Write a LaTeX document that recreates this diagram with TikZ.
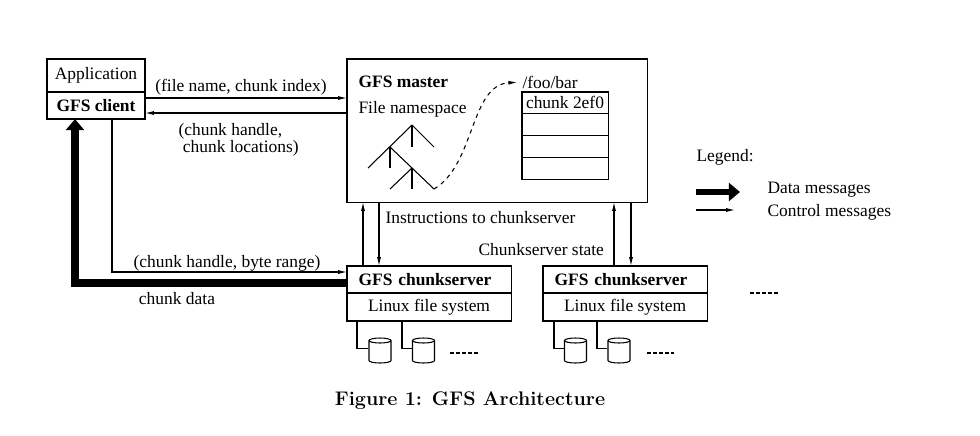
\documentclass[tikz,border=0pt]{standalone}
\usepackage{fontspec}
\usepackage{tikz}
\usetikzlibrary{positioning}
\usetikzlibrary{arrows.meta}
\usetikzlibrary{calc}
\newfontfamily\diagfont{Liberation Serif}
\newcommand{\storagedisk}[3]{ % Takes node name, x coord, y coord of the centre as arguments
    \node [disk] (#1) at (#2, #3) {};
    \draw [fill=white] (#2-11, #3-10) -- (#2-11, #3+10) arc [start angle=180, end angle=360, x radius=0.275cm, y radius=0.0625cm] -- (#2+11, #3-10);
    \draw (#2, #3-10) ellipse [x radius=0.275cm, y radius=0.0625cm];
}
\tikzset{
    box/.style={draw, rectangle, inner sep=0pt, outer sep=0pt, anchor=north west},
    csbox/.style={box, font=\diagfont\fontsize{12.4pt}{10.7pt}\selectfont\bfseries, inner xsep=0.29cm, text width=3.52cm, align=left, minimum height=0.675cm},
    fsbox/.style={box, minimum width=4.1cm, minimum height=0.7cm},
    row/.style={box, minimum width=2.15cm, minimum height=0.544cm},
    lbl/.style={inner sep=0pt},
    disk/.style={rectangle, inner sep=0pt, minimum width=0.55cm, minimum height=0.62cm},
    ctrl/.style={-{Latex[length=0.22cm, width=0.1cm]}},
    data/.style={line width=6pt, -{Triangle[length=0.28cm, width=0.45cm]}},
    more/.style={line width=1.8pt, dash pattern=on 2.85pt off 1.42pt}
}

\begin{document}
\begin{tikzpicture}[x=0.025cm, y=-0.025cm, line width=0.75pt,
    every node/.style={font=\diagfont\fontsize{12.4pt}{10.7pt}\selectfont}]
    \useasboundingbox (0,0) rectangle (980,435);

    % Client
    \node[box, minimum width=2.45cm, minimum height=0.825cm] (app) at (47,59) {Application};
    \node[box, below=0pt of app, minimum width=2.45cm, minimum height=0.675cm, font=\diagfont\fontsize{12.4pt}{10.7pt}\selectfont\bfseries] (client) {GFS client};

    % Master
    \node[box, minimum width=7.5cm, minimum height=3.575cm] (master) at (347,59) {};
    \node[lbl, anchor=west, font=\diagfont\fontsize{12.4pt}{10.7pt}\selectfont\bfseries] (mastername) at (358,82) {GFS master};
    \node[lbl, anchor=west] (namespace) at (358,109) {File namespace};
    \node[lbl, anchor=west] (foo) at (522,82) {/foo/bar};
    \node[row] (r1) at (522,92) {chunk 2ef0};
    \node[row, below=0pt of r1] (r2) {};
    \node[row, below=0pt of r2] (r3) {};
    \node[row, below=0pt of r3] (r4) {};

    % Namespace tree
    \draw (368,168) -- (412,125) -- (434,147);
    \draw (390,147) -- (434,189);
    \draw (412,168) -- (390,189);
    \draw (412,125) -- (412,147);
    \draw (390,147) -- (390,168);
    \draw (412,168) -- (412,189);
    \coordinate (leaf) at (434,189);
    \draw[dashed, ctrl, shorten >=0.12cm] (leaf) .. controls (475,165) and (470,85) .. (foo.west);

    % Chunkservers
    \node[csbox] (cs1) at (347,266) {GFS chunkserver};
    \node[fsbox, below=0pt of cs1] (fs1) {Linux file system};
    \node[csbox] (cs2) at (543,266) {GFS chunkserver};
    \node[fsbox, below=0pt of cs2] (fs2) {Linux file system};

    % Disks
    \storagedisk{d11}{380}{350.5}
    \storagedisk{d12}{423.5}{350.5}
    \storagedisk{d21}{575.5}{350.5}
    \storagedisk{d22}{619}{350.5}
    \draw ($(fs1.south west)+(10,0)$) |- ($(d11.west)+(0,-2)$);
    \draw ($(fs1.south west)+(55,0)$) |- ($(d12.west)+(0,-2)$);
    \draw ($(fs2.south west)+(11,0)$) |- ($(d21.west)+(0,-2)$);
    \draw ($(fs2.south west)+(54,0)$) |- ($(d22.west)+(0,-2)$);
    \draw[more] (450,353) -- (478,353);
    \draw[more] (647,353) -- (674,353);
    \draw[more] (750,293) -- (778,293);

    % Client <-> master
    \coordinate (q1) at ($(client.north east)+(0,6)$);
    \coordinate (q2) at ($(client.south east)+(0,-6)$);
    \draw[ctrl] (q1) -- (q1 -| master.west);
    \draw[ctrl] (q2 -| master.west) -- (q2);
    \node[lbl] (req) at (241,87) {(file name, chunk index)};
    \node[lbl, anchor=west, align=left] (reply) at (178,139.5) {(chunk handle,\\\ chunk locations)};

    % Client <-> chunkserver
    \coordinate (c1) at ($(client.south west)+(65,0)$);
    \coordinate (c2) at ($(cs1.north west)+(0,6)$);
    \draw[ctrl] (c1) |- (c2);
    \node[lbl] (range) at (227,263) {(chunk handle, byte range)};
    \coordinate (dstart) at ($(cs1.west)+(0,3.5)$);
    \coordinate (dend) at ($(client.south west)+(28,0)$);
    \draw[data] (dstart) -| (dend);
    \node[lbl] (chunkdata) at (177,299) {chunk data};

    % Master <-> chunkservers
    \coordinate (m1) at ($(cs1.north west)+(16,0)$);
    \coordinate (m2) at ($(cs1.north west)+(32,0)$);
    \coordinate (m3) at ($(cs2.north west)+(71,0)$);
    \coordinate (m4) at ($(cs2.north west)+(88,0)$);
    \draw[ctrl] (m1) -- (m1 |- master.south);
    \draw[ctrl] (m2 |- master.south) -- (m2);
    \draw[ctrl] (m3) -- (m3 |- master.south);
    \draw[ctrl] (m4 |- master.south) -- (m4);
    \node[lbl, anchor=west] (instr) at (385,218) {Instructions to chunkserver};
    \node[lbl, anchor=west] (state) at (478,250) {Chunkserver state};

    % Legend
    \node[lbl, anchor=west] (legend) at (696,157) {Legend:};
    \coordinate (ld1) at (696,192);
    \coordinate (ld2) at (740,192);
    \coordinate (lc1) at (696,210);
    \coordinate (lc2) at (735,210);
    \draw[data, line width=4.6pt] (ld1) -- (ld2);
    \draw[ctrl] (lc1) -- (lc2);
    \node[lbl, anchor=west] (datamsg) at (767,190) {Data messages};
    \node[lbl, anchor=west] (ctrlmsg) at (767,212) {Control messages};

    % Caption
    \node[lbl, font=\fontsize{14pt}{17pt}\selectfont\bfseries] (caption) at (470,401) {Figure 1: GFS Architecture};
\end{tikzpicture}
\end{document}
